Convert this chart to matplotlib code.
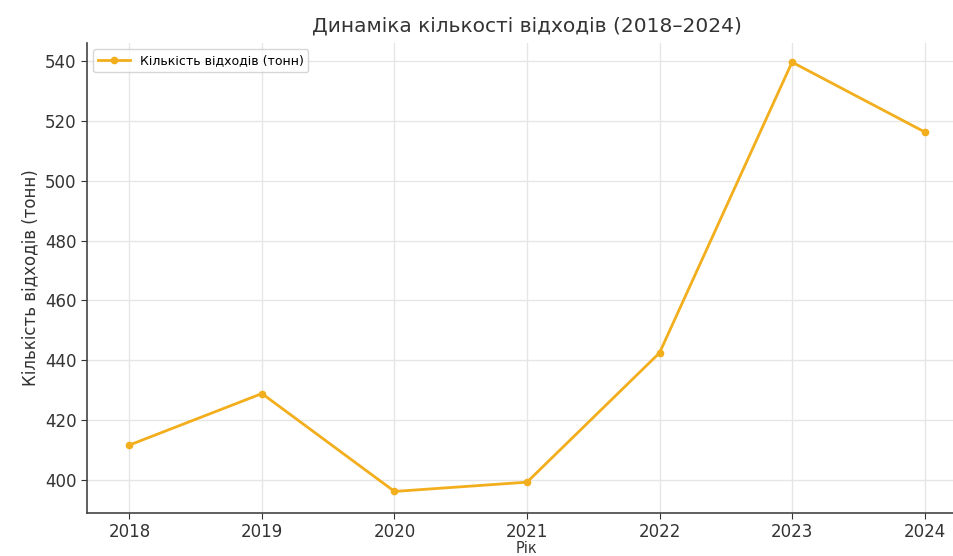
import matplotlib.pyplot as plt

years = [2018, 2019, 2020, 2021, 2022, 2023, 2024]
waste = [411.7, 428.9, 396.2, 399.3, 442.5, 539.6, 516.3]

plt.rcParams['font.family'] = ['DejaVu Sans']

fig = plt.figure(figsize=(9.54, 5.56), dpi=100)
ax = fig.add_axes([87 / 954, 43 / 556, 880 / 954, 470 / 556])

ax.plot(years, waste, marker='o', markersize=4.5, linewidth=2, color='#f2ae1c',
        label='Кількість відходів (тонн)')

ax.set_xlim(2017.68, 2024.32)
ax.set_ylim(389, 546)
ax.set_xticks(years)
ax.set_yticks(range(400, 541, 20))
ax.grid(True, color='#e6e6e6', linewidth=1)
ax.set_axisbelow(True)
for side in ['top', 'right']:
    ax.spines[side].set_visible(False)
for side in ['left', 'bottom']:
    ax.spines[side].set_color('#444444')
    ax.spines[side].set_linewidth(1.2)
ax.tick_params(labelsize=12, colors='#333333', length=4)
ax.tick_params(axis='x', pad=3)

ax.set_title('Динаміка кількості відходів (2018–2024)', fontsize=14.5, color='#333333', pad=8)
ax.set_xlabel('Рік', fontsize=10.5, color='#333333', labelpad=0)
ax.set_ylabel('Кількість відходів (тонн)', fontsize=12, color='#333333')
ax.legend(loc='upper left', fontsize=9, frameon=True, handlelength=2.5)

fig.savefig('out.png', dpi=100)
